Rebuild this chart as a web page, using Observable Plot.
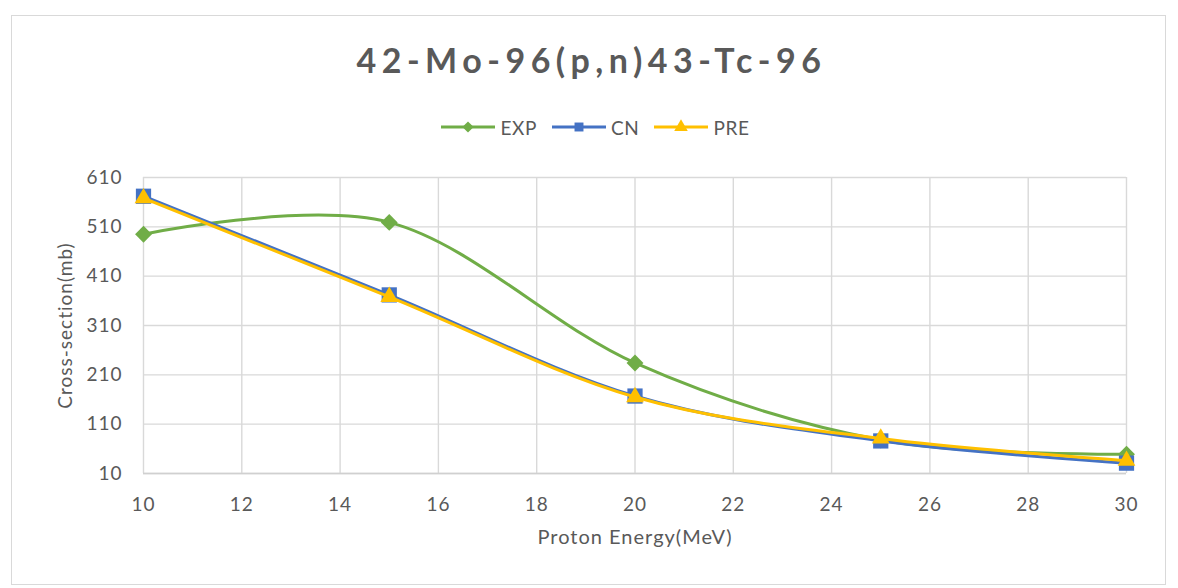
<!DOCTYPE html>
<html>
<head>
<meta charset="utf-8">
<script src="https://cdn.jsdelivr.net/npm/d3@7"></script>
<script src="https://cdn.jsdelivr.net/npm/@observablehq/plot@0.6"></script>
<style>
  html, body { margin: 0; padding: 0; background: #fff; }
  #wrap { position: relative; width: 1178px; height: 588px; overflow: hidden; font-family: Lato, "Open Sans", sans-serif; color: #595959; }
  #frame { position: absolute; left: 11px; top: 15px; width: 1155px; height: 570px; border: 1px solid #d9d9d9; box-sizing: border-box; }
  #title { position: absolute; left: 0; width: 1178px; top: 37px; text-align: center; font-size: 34px; font-weight: bold; letter-spacing: 5.5px; line-height: 46px; text-indent: 5px; }
  #legend { position: absolute; left: 0; width: 1190px; top: 114px; height: 26px; display: flex; justify-content: center; align-items: center; font-size: 19px; }
  #legend .item { display: flex; align-items: center; margin: 0 7px; }
  #legend .item span { margin-left: 4px; letter-spacing: 0.6px; }
  #chart { position: absolute; left: 0; top: 150px; }
</style>
</head>
<body>
<div id="wrap">
  <div id="frame"></div>
  <div id="title">42-Mo-96(p,n)43-Tc-96</div>
  <div id="legend"></div>
  <div id="chart"></div>
</div>
<script>
// Data
const energy = [10, 15, 20, 25, 30];
const expValues = [495, 519, 234, 78, 49];
const cnValues = [572, 372, 167, 76, 31];
const preValues = [568, 368, 165, 81, 36];

const seriesNames = ["EXP", "CN", "PRE"];
const seriesColors = ["#70AD47", "#4472C4", "#FFC000"];
const seriesSymbols = ["diamond2", "square", "triangle"];

const xTicks = [10, 12, 14, 16, 18, 20, 22, 24, 26, 28, 30];
const yTicks = [10, 110, 210, 310, 410, 510, 610];

const allValues = [expValues, cnValues, preValues];
const rows = [];
seriesNames.forEach((name, i) => {
  energy.forEach((e, j) => rows.push({series: name, energy: e, value: allValues[i][j]}));
});

const symbolR = {EXP: 7.6, CN: 8.6, PRE: 6.6};

const marks = [
  Plot.gridX(xTicks, {stroke: "#d9d9d9", strokeOpacity: 1, strokeWidth: 1.4}),
  Plot.gridY(yTicks, {stroke: "#d9d9d9", strokeOpacity: 1, strokeWidth: 1.4}),
  Plot.ruleY([10], {stroke: "#d0d0d0", strokeWidth: 1.6}),
  Plot.axisX(xTicks, {tickSize: 0, tickPadding: 24, label: null, fontSize: 19}),
  Plot.axisY(yTicks, {tickSize: 0, tickPadding: 21, label: null, fontSize: 19}),
];
seriesNames.forEach((name, i) => {
  const data = rows.filter(d => d.series === name);
  marks.push(Plot.line(data, {x: "energy", y: "value", stroke: seriesColors[i], strokeWidth: 3, curve: "cardinal"}));
  marks.push(Plot.dot(data, {x: "energy", y: "value", fill: seriesColors[i], stroke: "none", symbol: seriesSymbols[i], r: symbolR[name]}));
});
marks.push(Plot.text(["Proton Energy(MeV)"], {frameAnchor: "bottom", textAnchor: "middle", dy: 70, fontSize: 20, fill: "#595959"}));
marks.push(Plot.text(["Cross-section(mb)"], {frameAnchor: "left", textAnchor: "middle", dx: -78, rotate: -90, fontSize: 19, fill: "#595959"}));

const chart = Plot.plot({
  width: 1178,
  height: 430,
  marginTop: 27,
  marginBottom: 107,
  marginLeft: 143,
  marginRight: 52,
  x: {domain: [10, 30]},
  y: {domain: [10, 610]},
  style: {fontFamily: "Lato, 'Open Sans', sans-serif", color: "#595959", background: "transparent", letterSpacing: "1px"},
  marks
});
document.getElementById("chart").appendChild(chart);

// Legend: line + marker swatches
const legend = document.getElementById("legend");
seriesNames.forEach((name, i) => {
  const item = document.createElement("div");
  item.className = "item";
  const sym = d3.symbol().type({diamond2: d3.symbolDiamond2, square: d3.symbolSquare, triangle: d3.symbolTriangle}[seriesSymbols[i]]).size(80)();
  item.innerHTML = `<svg width="56" height="20"><line x1="1" x2="55" y1="10" y2="10" stroke="${seriesColors[i]}" stroke-width="3"/><path d="${sym}" transform="translate(28,10)" fill="${seriesColors[i]}"/></svg><span>${name}</span>`;
  legend.appendChild(item);
});
</script>
</body>
</html>
